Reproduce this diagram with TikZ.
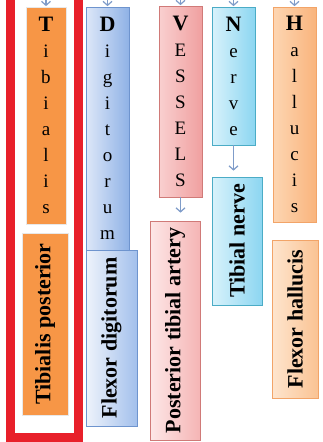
\documentclass[tikz,border=0pt]{standalone}
\usepackage{fontspec}
\setmainfont{Liberation Serif}
\usetikzlibrary{arrows.meta,shadows}
\definecolor{framered}{HTML}{E8202A}
\definecolor{arrowc}{HTML}{7F9CC9}
\definecolor{tibor}{HTML}{F79646}
\definecolor{tibbd}{HTML}{E8E8E8}
\definecolor{blueL}{HTML}{DDE7F8}
\definecolor{blueR}{HTML}{8FB2E6}
\definecolor{blueLL}{HTML}{EEF3FB}
\definecolor{blueRR}{HTML}{A3C0EC}
\definecolor{bluebd}{HTML}{6E94CE}
\definecolor{pinkL}{HTML}{F9CFCF}
\definecolor{pinkR}{HTML}{F0A0A0}
\definecolor{pinkLL}{HTML}{FDE7E7}
\definecolor{pinkRR}{HTML}{F5B5B5}
\definecolor{pinkbd}{HTML}{D07A78}
\definecolor{cyanL}{HTML}{D8F2FB}
\definecolor{cyanR}{HTML}{8CD6F1}
\definecolor{cyanbd}{HTML}{4BACC6}
\definecolor{orL}{HTML}{FDD6B3}
\definecolor{orR}{HTML}{F9B47C}
\definecolor{orLL}{HTML}{FEE5CE}
\definecolor{orRR}{HTML}{FAC393}
\definecolor{orbd}{HTML}{F2A468}
\begin{document}
\begin{tikzpicture}[x=1pt,y=-1pt,
  box/.style={draw, line width=0.7pt, inner sep=0pt,
    drop shadow={shadow xshift=1.2pt, shadow yshift=-1.2pt, fill=black, opacity=0.22}},
  tibbox/.style={box, draw=tibbd, fill=tibor},
  bluebox/.style={box, draw=bluebd, left color=blueL, right color=blueR},
  bluebox2/.style={box, draw=bluebd, left color=blueLL, right color=blueRR},
  pinkbox/.style={box, draw=pinkbd, left color=pinkL, right color=pinkR},
  pinkbox2/.style={box, draw=pinkbd, left color=pinkLL, right color=pinkRR},
  cyanbox/.style={box, draw=cyanbd, left color=cyanL, right color=cyanR},
  orbox/.style={box, draw=orbd, left color=orL, right color=orR},
  orbox2/.style={box, draw=orbd, left color=orLL, right color=orRR},
  letters/.style={align=center, font=\fontsize{19}{26}\selectfont},
  vtext/.style={font=\fontsize{22}{26}\selectfont\bfseries},
  arr/.style={draw=arrowc, line width=1.2pt, -{Straight Barb[length=4pt,width=9pt]}},
]
\useasboundingbox (0,0) rectangle (323,442);
\fill[white] (0,0) rectangle (323,442);

% red frame
\draw[framered, line width=9pt, line join=miter] (10,-8) -- (10,437) -- (78.5,437) -- (78.5,-8);

% top boxes
\node[tibbox, letters, minimum width=40pt, minimum height=217pt] (tib) at (46,115.5)
  {{\fontsize{22}{26}\selectfont\bfseries T}\\i\\b\\i\\a\\l\\i\\s};
\node[bluebox, letters, minimum width=43pt, minimum height=243pt] (dig) at (107.5,128.5)
  {{\fontsize{22}{26}\selectfont\bfseries D}\\i\\g\\i\\t\\o\\r\\u\\m};
\node[pinkbox, letters, minimum width=43pt, minimum height=191pt] (ves) at (180.5,101.5)
  {{\fontsize{22}{26}\selectfont\bfseries V}\\E\\S\\S\\E\\L\\S};
\node[cyanbox, letters, minimum width=43pt, minimum height=138pt] (ner) at (233.5,76)
  {{\fontsize{22}{26}\selectfont\bfseries N}\\e\\r\\v\\e};
\node[orbox, letters, minimum width=43pt, minimum height=215pt] (hal) at (294.5,114.5)
  {{\fontsize{22}{26}\selectfont\bfseries H}\\a\\l\\l\\u\\c\\i\\s};

% bottom boxes
\node[tibbox, vtext, minimum width=46pt, minimum height=182pt] (tibp) at (45,324)
  {\rotatebox{90}{Tibialis posterior}};
\node[bluebox2, vtext, minimum width=51pt, minimum height=176pt] (fdig) at (111.5,338)
  {\rotatebox{90}{Flexor digitorum}};
\node[pinkbox2, vtext, minimum width=50pt, minimum height=219pt] (pta) at (175,330.5)
  {\rotatebox{90}{Posterior tibial artery}};
\node[cyanbox, vtext, minimum width=50pt, minimum height=128pt] (tn) at (237,241)
  {\rotatebox{90}{Tibial nerve}};
\node[orbox2, vtext, minimum width=46pt, minimum height=158pt] (fhal) at (295,319)
  {\rotatebox{90}{Flexor hallucis}};

% top arrows
\coordinate (t1) at (46,-2);
\coordinate (t2) at (107.5,-2);
\coordinate (t3) at (180.5,-2);
\coordinate (t4) at (233.5,-2);
\coordinate (t5) at (294.5,-2);
\draw[arr, shorten >=0.5pt] (t1) -- (tib.north);
\draw[arr, shorten >=0.5pt] (t2) -- (dig.north);
\draw[arr, shorten >=0.5pt] (t3) -- (ves.north);
\draw[arr, shorten >=0.5pt] (t4) -- (ner.north);
\draw[arr, shorten >=0.5pt] (t5) -- (hal.north);

% down arrows
\draw[arr, shorten >=8pt] (ves.south) -- (ves.south |- pta.north);
\draw[arr, shorten >=6pt] (ner.south) -- (ner.south |- tn.north);
\end{tikzpicture}
\end{document}
